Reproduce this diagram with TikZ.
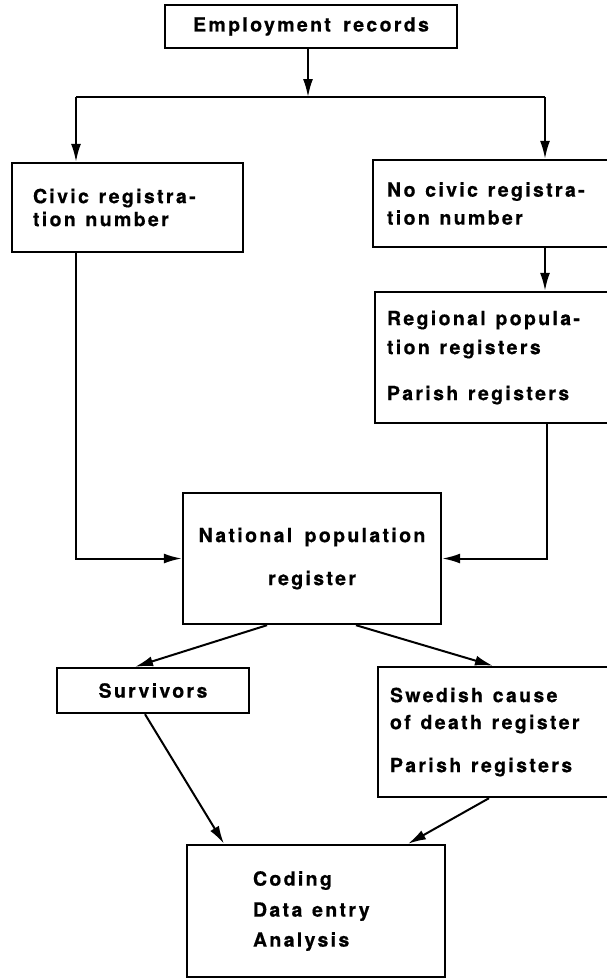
\documentclass[tikz,border=0pt]{standalone}
\usepackage{fontspec}
\newfontfamily\flowfont{TeX Gyre Heros}[LetterSpace=12,WordSpace=1.6,FakeBold=0.6]
\usetikzlibrary{arrows.meta}

\tikzset{
  box/.style={draw, line width=2.4pt, rectangle, inner ysep=0pt,
    font=\flowfont\bfseries\fontsize{19.5}{24}\selectfont},
  lbox/.style={box, align=left, execute at begin node={\spaceskip=.5em\relax}},
  wire/.style={line width=2pt},
  arr/.style={wire, -{Latex[length=18pt,width=10pt]}}
}

\begin{document}
\begin{tikzpicture}[x=1pt,y=-1pt]
\useasboundingbox (0,0) rectangle (606,978);
% boxes
\node[box, minimum width=292pt, minimum height=43pt] (emp) at (311,26.5) {Employment records};
\node[lbox, text width=189pt, inner xsep=21pt, minimum height=89pt] (civic) at (127.5,207.5)
  {Civic~registra-\\[-1pt]tion~number};
\node[lbox, text width=250pt, inner xsep=14pt, minimum height=87pt] (nocivic) at (512,203.5)
  {No civic registra-\\[4pt]tion number};
\node[lbox, text width=250pt, inner xsep=12pt, minimum height=131pt] (regional) at (512,357.5)
  {Regional popula-\\[5pt]tion registers\\[22pt]Parish registers};
\node[box, align=center, minimum width=258pt, minimum height=131pt] (national) at (312,558.5)
  {National population\\[19pt]register};
\node[box, minimum width=192pt, minimum height=45pt] (survivors) at (153,690.5) {Survivors};
\node[lbox, text width=250pt, inner xsep=12pt, minimum height=130pt] (swedish) at (515,732)
  {Swedish cause\\[3pt]of death register\\[19pt]Parish registers};
\node[lbox, text width=126pt, inner xsep=66pt, minimum height=132pt] (coding) at (316,911)
  {Coding\\[7pt]Data~entry\\[6pt]Analysis};
% split under the first box
\coordinate (split) at (308,97);
\coordinate (lt) at (76,97);
\coordinate (rt) at (545,97);
\draw[arr] (emp.south -| split) -- (split);
\draw[wire] (lt) -- (rt);
\draw[arr] (lt) -- (lt |- civic.north);
\draw[arr] (rt) -- (rt |- nocivic.north);
\draw[arr] (rt |- nocivic.south) -- (rt |- regional.north);
% into the national register
\draw[arr] (lt |- civic.south) |- (national.west);
\draw[arr] ([xshift=35pt]regional.south) |- (national.east);
% out of it
\draw[arr] ([xshift=-45pt]national.south) -- ([xshift=-18pt]survivors.north);
\draw[arr] ([xshift=44pt]national.south) -- ([xshift=-22pt]swedish.north);
\draw[arr] ([xshift=-8pt]survivors.south) -- ([xshift=-92pt]coding.north);
\draw[arr] ([xshift=-26pt]swedish.south) -- ([xshift=92pt]coding.north);
\end{tikzpicture}
\end{document}
